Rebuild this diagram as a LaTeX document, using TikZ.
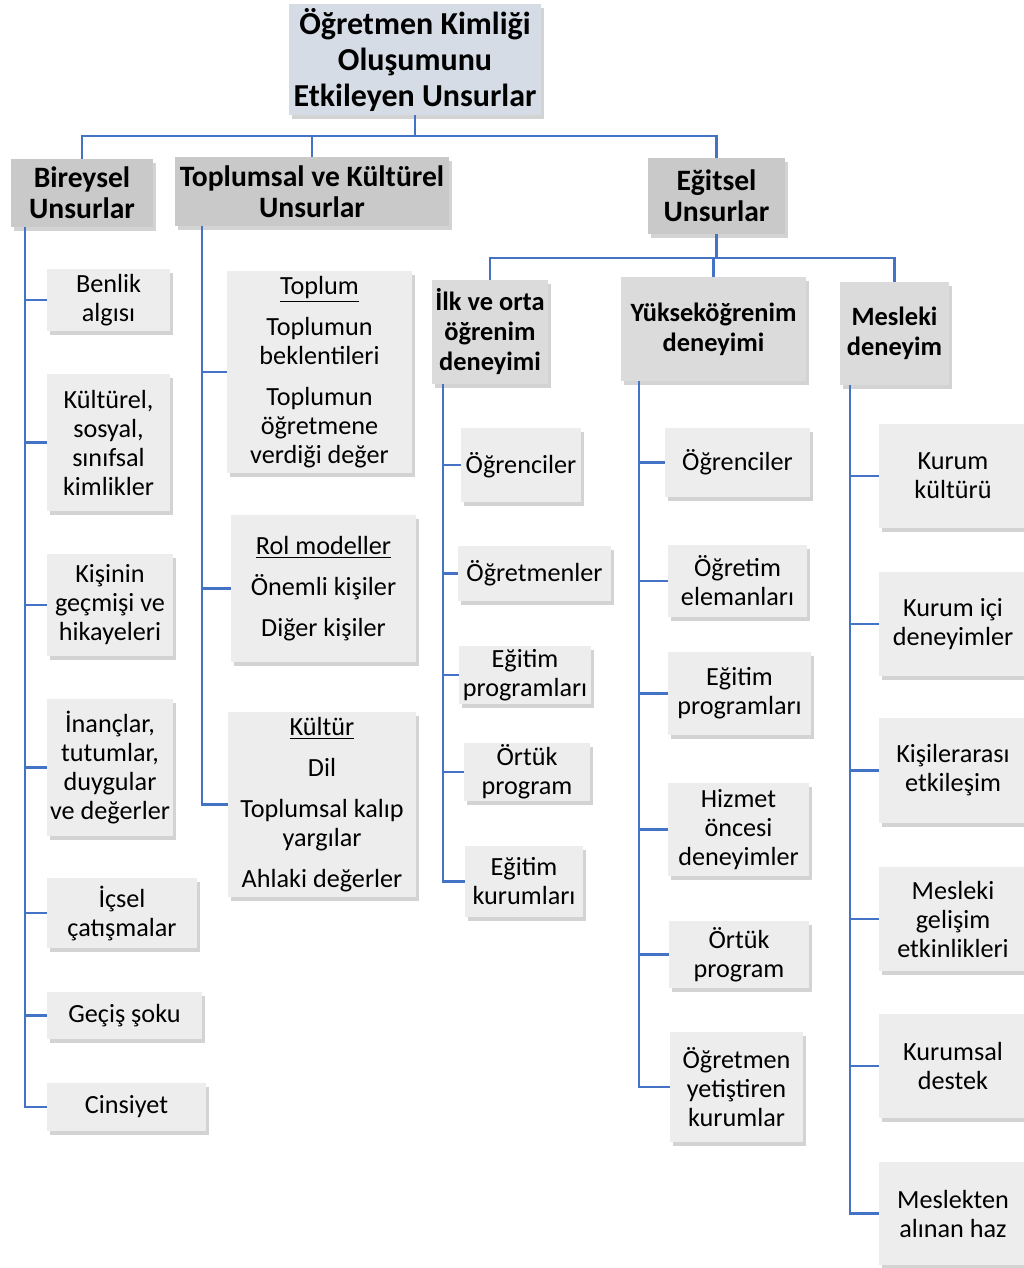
\documentclass[tikz,border=0pt]{standalone}
\usepackage{fontspec}
\setmainfont{Carlito}
\usetikzlibrary{shadows}
\definecolor{linkblue}{HTML}{4472C4}
\definecolor{rootfill}{HTML}{D6DCE5}
\definecolor{headfill}{HTML}{C9C9C9}
\definecolor{subfill}{HTML}{DBDBDB}
\definecolor{leaffill}{HTML}{EDEDED}
\begin{document}
\begin{tikzpicture}[x=0.5pt, y=-0.5pt,
  plain box/.style={inner sep=0pt, align=center, drop shadow={shadow xshift=1.5pt, shadow yshift=-2pt, opacity=0.35}},
  sz/.style 2 args={minimum width=#1*0.5pt, minimum height=#2*0.5pt},
  root node/.style={plain box, fill=rootfill, font=\bfseries\fontsize{16}{18}\selectfont},
  head node/.style={plain box, fill=headfill, font=\bfseries\fontsize{14.8}{15.5}\selectfont},
  sub node/.style={plain box, fill=subfill, font=\bfseries\fontsize{13.2}{15}\selectfont},
  leaf node/.style={plain box, fill=leaffill, font=\fontsize{13.1}{14.5}\selectfont},
  link/.style={draw=linkblue, line width=1.25pt}]
\useasboundingbox (0,0) rectangle (1023,1268);

\node [root node, sz={252}{111}] (root) at (415,59.5) {Öğretmen Kimliği\\Oluşumunu\\Etkileyen Unsurlar};
\node [head node, sz={142}{68}] (bir) at (82,193) {Bireysel\\Unsurlar};
\node [head node, sz={274}{69}] (top) at (312,191.5) {Toplumsal ve Kültürel\\Unsurlar};
\node [head node, sz={137}{76}] (egi) at (716.5,196) {Eğitsel\\Unsurlar};
\node [sub node, sz={116}{104}] (ilk) at (490,332) {İlk ve orta\\öğrenim\\deneyimi};
\node [sub node, sz={185}{104}] (yuk) at (713.5,329) {Yükseköğrenim\\deneyimi};
\node [sub node, sz={109}{103}] (mes) at (894.5,333.5) {Mesleki\\deneyim};

% bireysel
\node [leaf node, sz={123}{62}] (b1) at (108.5,300) {Benlik\\algısı};
\node [leaf node, sz={123}{137}] (b2) at (108.5,442.5) {Kültürel,\\sosyal,\\sınıfsal\\kimlikler};
\node [leaf node, sz={126}{102}] (b3) at (110,605) {Kişinin\\geçmişi ve\\hikayeleri};
\node [leaf node, sz={126}{137}] (b4) at (110,767.5) {İnançlar,\\tutumlar,\\duygular\\ve değerler};
\node [leaf node, sz={150}{70}] (b5) at (122,913) {İçsel\\çatışmalar};
\node [leaf node, sz={155}{47}] (b6) at (124.5,1015.5) {Geçiş şoku};
\node [leaf node, sz={159}{48}] (b7) at (126.5,1107) {Cinsiyet};

% toplumsal ve kulturel
\node [leaf node, sz={185}{202}] (t1) at (319.5,372) {\underline{Toplum}\\[6pt]Toplumun\\beklentileri\\[6pt]Toplumun\\öğretmene\\verdiği değer};
\node [leaf node, sz={185}{147}] (t2) at (323.5,588.5) {\underline{Rol modeller}\\[6pt]Önemli kişiler\\[6pt]Diğer kişiler};
\node [leaf node, sz={188}{185}] (t3) at (322,804.5) {\underline{Kültür}\\[6pt]Dil\\[6pt]Toplumsal kalıp\\yargılar\\[6pt]Ahlaki değerler};

% ilk ve orta
\node [leaf node, sz={120}{74}] (i1) at (521,465) {Öğrenciler};
\node [leaf node, sz={153}{55}] (i2) at (534.5,573.5) {Öğretmenler};
\node [leaf node, sz={132}{58}] (i3) at (525,675) {Eğitim\\programları};
\node [leaf node, sz={126}{58}] (i4) at (527,772) {Örtük\\program};
\node [leaf node, sz={118}{71}] (i5) at (524,881.5) {Eğitim\\kurumları};

% yuksekogrenim
\node [leaf node, sz={145}{69}] (y1) at (737.5,462.5) {Öğrenciler};
\node [leaf node, sz={139}{72}] (y2) at (737.5,581) {Öğretim\\elemanları};
\node [leaf node, sz={143}{83}] (y3) at (739.5,693.5) {Eğitim\\programları};
\node [leaf node, sz={141}{93}] (y4) at (738.5,829.5) {Hizmet\\öncesi\\deneyimler};
\node [leaf node, sz={140}{67}] (y5) at (739,954.5) {Örtük\\program};
\node [leaf node, sz={133}{110}] (y6) at (736.5,1087) {Öğretmen\\yetiştiren\\kurumlar};

% mesleki
\node [leaf node, sz={148}{104}] (m1) at (953,476) {Kurum\\kültürü};
\node [leaf node, sz={148}{104}] (m2) at (953,624) {Kurum içi\\deneyimler};
\node [leaf node, sz={148}{105}] (m3) at (953,770.5) {Kişilerarası\\etkileşim};
\node [leaf node, sz={148}{104}] (m4) at (953,919) {Mesleki\\gelişim\\etkinlikleri};
\node [leaf node, sz={148}{104}] (m5) at (953,1066) {Kurumsal\\destek};
\node [leaf node, sz={148}{103}] (m6) at (953,1213.5) {Meslekten\\alınan haz};

\coordinate (rj) at (415,136);
\coordinate (ej) at (716.5,258);
\coordinate (bt) at (25,227);
\coordinate (tt) at (202,226);
\coordinate (it) at (443,384);
\coordinate (yt) at (639,381);
\coordinate (mt) at (850,385);

\draw [link] (root) -- (rj) -| (bir);
\draw [link] (rj) -| (top);
\draw [link] (rj) -| (egi);
\draw [link] (egi) -- (ej) -| (ilk);
\draw [link] (ej) -| (yuk);
\draw [link] (ej) -| (mes);

\draw [link] (bt) |- (b1);
\draw [link] (bt) |- (b2);
\draw [link] (bt) |- (b3);
\draw [link] (bt) |- (b4);
\draw [link] (bt) |- (b5);
\draw [link] (bt) |- (b6);
\draw [link] (bt) |- (b7);

\draw [link] (tt) |- (t1);
\draw [link] (tt) |- (t2);
\draw [link] (tt) |- (t3);

\draw [link] (it) |- (i1);
\draw [link] (it) |- (i2);
\draw [link] (it) |- (i3);
\draw [link] (it) |- (i4);
\draw [link] (it) |- (i5);

\draw [link] (yt) |- (y1);
\draw [link] (yt) |- (y2);
\draw [link] (yt) |- (y3);
\draw [link] (yt) |- (y4);
\draw [link] (yt) |- (y5);
\draw [link] (yt) |- (y6);

\draw [link] (mt) |- (m1);
\draw [link] (mt) |- (m2);
\draw [link] (mt) |- (m3);
\draw [link] (mt) |- (m4);
\draw [link] (mt) |- (m5);
\draw [link] (mt) |- (m6);
\end{tikzpicture}
\end{document}
